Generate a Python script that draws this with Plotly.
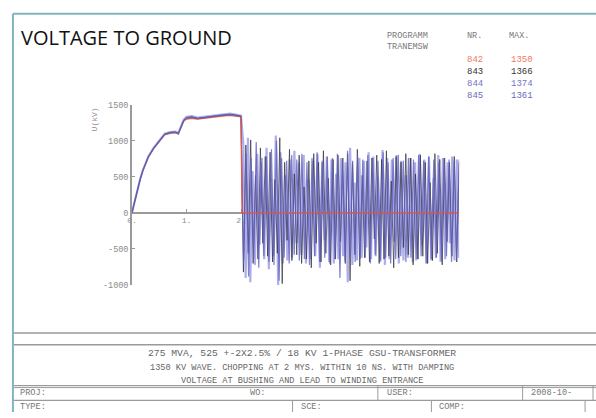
import plotly.graph_objects as go

W, H = 596, 418

# ---------------- data ----------------
series_nr = ["842", "843", "844", "845"]
series_max = ["1350", "1366", "1374", "1361"]

t_rise = [0, 0.05, 0.1, 0.15, 0.2, 0.25, 0.3, 0.4, 0.5, 0.6, 0.7, 0.8, 0.85,
          0.9, 0.95, 1.0, 1.1, 1.2, 1.3, 1.4, 1.5, 1.6, 1.7, 1.8, 1.9, 1.98, 2.0]

u_rise_842 = [0, 170, 330, 470, 590, 690, 770, 890, 990, 1080, 1100, 1110, 1090,
              1180, 1270, 1300, 1310, 1300, 1310, 1320, 1330, 1340, 1345, 1350, 1340, 1335, 1330]
u_rise_843 = [0, 160, 320, 460, 585, 690, 775, 900, 1000, 1090, 1115, 1120, 1100,
              1190, 1280, 1320, 1330, 1310, 1320, 1335, 1345, 1355, 1360, 1366, 1355, 1345, 1340]
u_rise_844 = [0, 165, 325, 465, 590, 695, 780, 905, 1005, 1095, 1120, 1125, 1105,
              1195, 1290, 1330, 1340, 1320, 1330, 1340, 1350, 1360, 1370, 1374, 1360, 1350, 1345]
u_rise_845 = [0, 160, 318, 458, 582, 688, 772, 895, 998, 1085, 1110, 1115, 1095,
              1185, 1278, 1315, 1325, 1305, 1318, 1330, 1340, 1350, 1356, 1361, 1350, 1342, 1336]

# chopped part of 842 (falls to zero and stays)
t_chop_842 = [2.0, 2.02, 6.0]
u_chop_842 = [1330, 0, 0]

# oscillation after chopping (alternating peaks / troughs, 2..6 mys)
u_osc_843 = [-820, 940, -560, 1010, -700, 520, -640, 900, -420, 780, -600, 840, -680, 460,
             -560, 1040, -980, 700, -380, 880, -660, 540, -580, 800, -700, 360, -640, 720,
             -760, 820, -420, 700, -680, 860, -560, 480, -720, 740, -640, 800, -400, 760,
             -700, 820, -940, 700, -580, 880, -740, 520, -620, 720, -680, 760, -360, 800,
             -700, 740, -640, 860, -600, 440, -760, 780, -620, 700, -480, 820, -580, 760,
             -720, 540, -640, 800, -600, 700, -700, 420, -660, 820, -560, 740, -720, 760,
             -400, 700, -600, 780, -680, 740]
u_osc_844 = [960, -900, 1040, -960, 580, -720, 820, -440, 760, -640, 900, -780, 480, -600,
             1070, -1000, 840, -700, 520, -660, 740, -620, 860, -420, 700, -580, 800, -700,
             460, -640, 720, -600, 820, -760, 700, -380, 780, -680, 740, -700, 540, -640,
             760, -600, 700, -960, 900, -720, 420, -660, 760, -620, 720, -480, 840, -640,
             780, -600, 500, -680, 870, -720, 760, -640, 740, -400, 800, -700, 720, -660,
             520, -620, 760, -680, 700, -640, 820, -440, 740, -700, 780, -660, 480, -620,
             800, -680, 760, -640, 700, -420, 780, -660, 740, -620]
u_osc_845 = [-700, 820, -880, 760, -640, 980, -760, 700, -600, 780, -680, 880, -720, 1000,
             -940, 760, -620, 720, -700, 800, -580, 740, -660, 820, -640, 700, -720, 760,
             -600, 840, -680, 720, -620, 780, -700, 760, -640, 820, -900, 740, -660, 860,
             -600, 720, -680, 780, -640, 740, -620, 800, -700, 760, -580, 720, -660, 840,
             -620, 700, -700, 760, -640, 800, -600, 720, -680, 760, -620, 740, -660, 800,
             -600, 720, -700, 780, -640, 740, -620, 700, -660, 760, -600, 740, -680, 720,
             -640, 700]

t_chop = 2.0
t_end = 6.0

y_tickvals = [-1000, -500, 0, 500, 1000, 1500]
y_ticktext = ["-1000", "-500", "0", "500", "1000", "1500"]
x_tickvals = [0, 1, 2]
x_ticktext = ["0.", "1.", "2."]

title_text = "VOLTAGE TO GROUND"
footer_lines = ["275 MVA, 525 +-2X2.5% / 18 KV 1-PHASE GSU-TRANSFORMER",
                "1350 KV WAVE. CHOPPING AT 2 MYS. WITHIN 10 NS. WITH DAMPING",
                "VOLTAGE AT BUSHING AND LEAD TO WINDING ENTRANCE"]

# ---------------- styles ----------------
col_842 = "#e2574c"
col_843 = "rgba(55,55,70,0.75)"
col_844 = "rgba(165,165,232,0.9)"
col_845 = "rgba(95,95,190,0.8)"
legend_cols = ["#ee7a60", "#333333", "#7474c4", "#6a6ab8"]
gray = "#8c8c8c"
mono = "Liberation Mono"


def px(x):
    return x / W


def py(y):
    return 1 - y / H


def osc_times(vals):
    n = len(vals)
    return [t_chop + (t_end - t_chop) * (i + 1) / n for i in range(n)]


fig = go.Figure()
# 842 rising part (underneath)
fig.add_trace(go.Scatter(x=t_rise, y=u_rise_842, mode="lines",
                         line=dict(color=col_842, width=1.3), hoverinfo="skip"))
for rise, osc, col, w in [(u_rise_844, u_osc_844, col_844, 2.2),
                          (u_rise_843, u_osc_843, col_843, 1.0),
                          (u_rise_845, u_osc_845, col_845, 1.2)]:
    fig.add_trace(go.Scatter(x=t_rise + osc_times(osc), y=rise + osc, mode="lines",
                             line=dict(color=col, width=w), hoverinfo="skip"))
# 842 chopped part (on top)
fig.add_trace(go.Scatter(x=t_chop_842, y=u_chop_842, mode="lines",
                         line=dict(color=col_842, width=1.3), hoverinfo="skip"))

x0_px, x1_px = 128, 458
y_top_px, y_bot_px = 103, 288
zero_px = y_bot_px - (y_bot_px - y_top_px) * 1000 / 2500

fig.update_layout(
    width=W, height=H, margin=dict(l=0, r=0, t=0, b=0),
    paper_bgcolor="white", plot_bgcolor="white", showlegend=False,
    xaxis=dict(domain=[px(x0_px), px(x1_px)], range=[0, t_end], anchor="free",
               position=py(zero_px), showline=True, linecolor="#9a9a9a", linewidth=1.5,
               showgrid=False, zeroline=False, tickvals=x_tickvals, ticktext=x_ticktext,
               ticks="inside", ticklen=3, tickcolor="#9a9a9a", layer="below traces",
               tickfont=dict(family=mono, size=8, color=gray)),
    yaxis=dict(domain=[py(y_bot_px), py(y_top_px)], range=[-1000, 1500], anchor="x",
               showline=True, linecolor="#9a9a9a", linewidth=1.5, showgrid=False,
               zeroline=False, tickvals=y_tickvals, ticktext=y_ticktext,
               ticks="inside", ticklen=3, tickcolor="#9a9a9a", layer="below traces",
               tickfont=dict(family=mono, size=8.5, color=gray)),
)

ann = []
ann.append(dict(text=title_text, x=px(14), y=py(34), xref="paper", yref="paper",
                xanchor="left", yanchor="middle", showarrow=False,
                font=dict(family="Open Sans", size=20, color="#111111")))
ann.append(dict(text="U(kV)", x=px(90), y=py(118), xref="paper", yref="paper",
                textangle=-90, showarrow=False, xanchor="center", yanchor="middle",
                font=dict(family=mono, size=8, color=gray)))
# legend table
lab = dict(family=mono, size=8.5, color="#777777")
for txt, xx, yy in [("PROGRAMM", 383, 33), ("TRANEMSW", 383, 44), ("NR.", 464, 33), ("MAX.", 506, 33)]:
    ann.append(dict(text=txt, x=px(xx), y=py(yy), xref="paper", yref="paper",
                    xanchor="left", yanchor="middle", showarrow=False, font=lab))
for i, (nr, mx, c) in enumerate(zip(series_nr, series_max, legend_cols)):
    yy = 57 + i * 12.5
    ann.append(dict(text=nr, x=px(464), y=py(yy), xref="paper", yref="paper",
                    xanchor="left", yanchor="middle", showarrow=False,
                    font=dict(family=mono, size=9, color=c)))
    ann.append(dict(text=mx, x=px(508), y=py(yy), xref="paper", yref="paper",
                    xanchor="left", yanchor="middle", showarrow=False,
                    font=dict(family=mono, size=9, color=c)))
# footer
for txt, yy, sz in zip(footer_lines, [358, 373, 386], [9.7, 8.6, 8.6]):
    ann.append(dict(text=txt, x=px(300), y=py(yy), xref="paper", yref="paper",
                    xanchor="center", yanchor="middle", showarrow=False,
                    font=dict(family=mono, size=sz, color="#666666")))
for txt, xx, yy in [("PROJ:", 13, 399), ("WO:", 245, 399), ("USER:", 383, 399),
                    ("2008-10-", 528, 399), ("TYPE:", 13, 413), ("SCE:", 296, 413),
                    ("COMP:", 436, 413)]:
    ann.append(dict(text=txt, x=px(xx), y=py(yy), xref="paper", yref="paper",
                    xanchor="left", yanchor="middle", showarrow=False,
                    font=dict(family=mono, size=8.6, color="#777777")))
fig.update_layout(annotations=ann)

shapes = []
teal = "#7fb4c0"
shapes.append(dict(type="line", xref="paper", yref="paper", x0=px(8), x1=1, y0=py(10), y1=py(10),
                   line=dict(color=teal, width=2)))
shapes.append(dict(type="line", xref="paper", yref="paper", x0=px(8), x1=px(8), y0=py(10), y1=0,
                   line=dict(color=teal, width=2)))
for yy, w in [(337, 1.5), (349, 1.5), (391, 1.2), (393, 1), (406, 1.2)]:
    shapes.append(dict(type="line", xref="paper", yref="paper", x0=px(9), x1=1, y0=py(yy), y1=py(yy),
                       line=dict(color="#9a9a9a", width=w)))
for xx, ya, yb in [(376, 391, 406), (522, 391, 406), (593, 391, 406),
                   (290, 406, 418), (430, 406, 418), (585, 406, 418)]:
    shapes.append(dict(type="line", xref="paper", yref="paper", x0=px(xx), x1=px(xx),
                       y0=py(ya), y1=py(yb), line=dict(color="#9a9a9a", width=1)))
fig.update_layout(shapes=shapes)

fig.write_html("out.html", config={"displayModeBar": False},
               post_script="document.body.style.margin='0';document.body.style.overflow='hidden';")
